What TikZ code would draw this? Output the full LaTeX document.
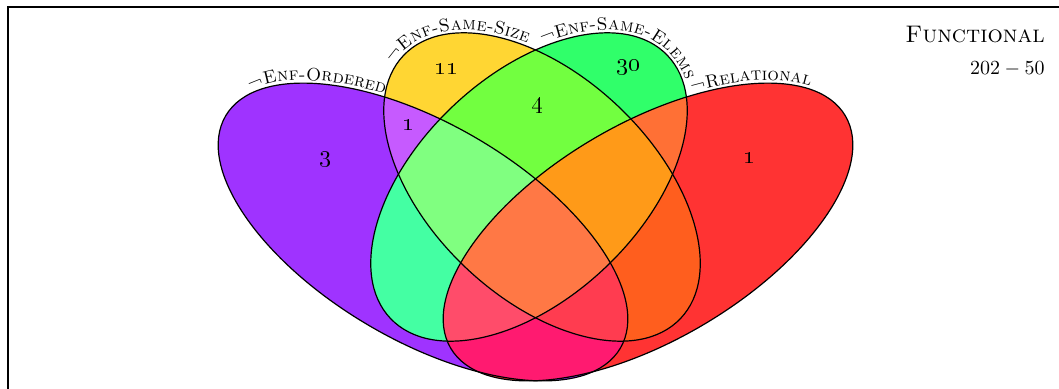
\documentclass[tikz,border=0pt]{standalone}
\usetikzlibrary{decorations.text}
\definecolor{cP}{HTML}{9F33FF}
\definecolor{cY}{HTML}{FFD633}
\definecolor{cG}{HTML}{30FF6A}
\definecolor{cR}{HTML}{FF3333}
\definecolor{cPY}{HTML}{C65AFF}
\definecolor{cPG}{HTML}{44FFA3}
\definecolor{cPR}{HTML}{FF1A70}
\definecolor{cYG}{HTML}{72FF40}
\definecolor{cYR}{HTML}{FF5E1E}
\definecolor{cGR}{HTML}{FF7035}
\definecolor{cPYG}{HTML}{80FF80}
\definecolor{cPYR}{HTML}{FF3C50}
\definecolor{cPGR}{HTML}{FF4C6A}
\definecolor{cYGR}{HTML}{FF9A18}
\definecolor{cPYGR}{HTML}{FF7845}
\newcommand\vclipP{\clip[rotate around={-30.5:(423,232)}] (423,232) ellipse [x radius=229, y radius=108];}
\newcommand\vclipR{\clip[rotate around={30.5:(648,232)}] (648,232) ellipse [x radius=229, y radius=108];}
\newcommand\vclipY{\clip[rotate around={-43.5:(542,187)}] (542,187) ellipse [x radius=191, y radius=111];}
\newcommand\vclipG{\clip[rotate around={43.5:(529,187)}] (529,187) ellipse [x radius=191, y radius=111];}
\newcommand\vregion[2]{\begin{scope}#1\fill[#2] (0,0) rectangle (1059,389);\end{scope}}
\newcommand\arcfont{\fontsize{9}{11}\selectfont\scshape}
\tikzset{
  vline/.style={draw=black, line width=0.6pt},
  numlab/.style={inner sep=0pt, font=\large},
  arclab/.style={decorate, decoration={text along path, text={#1}, text align=center, raise=1.5pt}},
}
\begin{document}
\begin{tikzpicture}[x=0.5pt,y=-0.5pt]
\useasboundingbox (0,0) rectangle (1059,389);
% frame
\draw[line width=1pt] (7.5,420) -- (7.5,7.5) -- (1080,7.5);
% singles
\vregion{\vclipP}{cP}
\vregion{\vclipY}{cY}
\vregion{\vclipG}{cG}
\vregion{\vclipR}{cR}
% pairs
\vregion{\vclipP\vclipY}{cPY}
\vregion{\vclipP\vclipG}{cPG}
\vregion{\vclipP\vclipR}{cPR}
\vregion{\vclipY\vclipG}{cYG}
\vregion{\vclipY\vclipR}{cYR}
\vregion{\vclipG\vclipR}{cGR}
% triples
\vregion{\vclipP\vclipY\vclipG}{cPYG}
\vregion{\vclipP\vclipY\vclipR}{cPYR}
\vregion{\vclipP\vclipG\vclipR}{cPGR}
\vregion{\vclipY\vclipG\vclipR}{cYGR}
% all
\vregion{\vclipP\vclipY\vclipG\vclipR}{cPYGR}
% outlines
\draw[vline, rotate around={-30.5:(423,232)}] (423,232) ellipse [x radius=229, y radius=108];
\draw[vline, rotate around={30.5:(648,232)}] (648,232) ellipse [x radius=229, y radius=108];
\draw[vline, rotate around={-43.5:(542,187)}] (542,187) ellipse [x radius=191, y radius=111];
\draw[vline, rotate around={43.5:(529,187)}] (529,187) ellipse [x radius=191, y radius=111];
% arc labels
\path[arclab={|\arcfont|¬Enf-Ordered}] plot[domain=185:105, samples=41, variable=\u] ({423+197.3*cos(\u)+54.8*sin(\u)}, {232+116.2*cos(\u)-93.1*sin(\u)});
\path[arclab={|\arcfont|¬Relational}] plot[domain=104:184, samples=41, variable=\u] ({648-197.3*cos(\u)-54.8*sin(\u)}, {232+116.2*cos(\u)-93.1*sin(\u)});
\path[arclab={|\arcfont|¬Enf-Same-Size}] plot[domain=208:110, samples=50, variable=\u] ({542+138.6*cos(\u)+76.4*sin(\u)}, {187+131.5*cos(\u)-80.5*sin(\u)});
\path[arclab={|\arcfont|¬Enf-Same-Elems}] plot[domain=111:213, samples=52, variable=\u] ({529-138.6*cos(\u)-76.4*sin(\u)}, {187+131.5*cos(\u)-80.5*sin(\u)});
% region counts
\node[numlab] (nP) at (325,160) {\oldstylenums{3}};
\node[numlab] (nY) at (446,69) {\oldstylenums{11}};
\node[numlab] (nG) at (628,68) {\oldstylenums{30}};
\node[numlab] (nR) at (749,158) {\oldstylenums{1}};
\node[numlab] (nPY) at (408,125) {\oldstylenums{1}};
\node[numlab] (nYG) at (537,106) {\oldstylenums{4}};
% title
\node[anchor=base east, inner sep=0pt, font=\large] (title) at (1045,43) {\textsc{Functional}};
\node[anchor=base east, inner sep=0pt] (count) at (1045,75) {$202-50$};
\end{tikzpicture}
\end{document}
